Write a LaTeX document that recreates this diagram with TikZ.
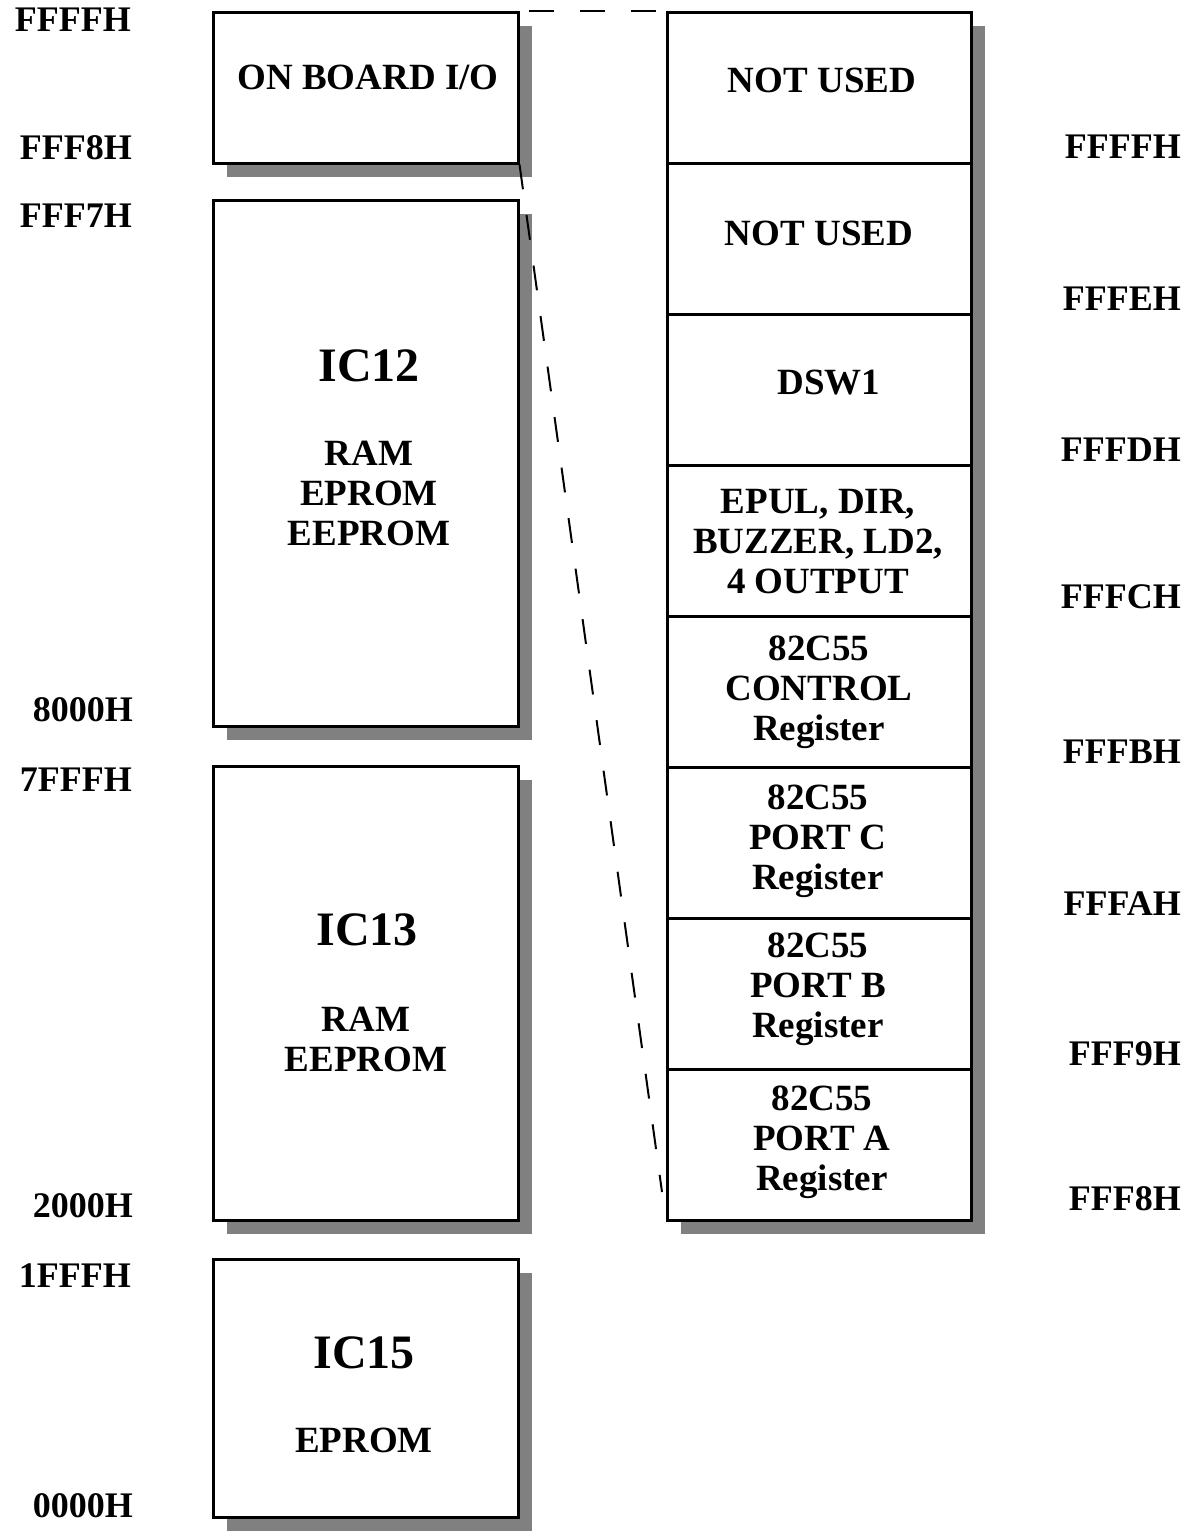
\documentclass[tikz,border=0pt]{standalone}
\usepackage{fontspec}
\setmainfont{Liberation Serif}
\usetikzlibrary{shadows,positioning,calc}

\tikzset{
  membox/.style={draw, line width=3pt, fill=white, minimum width=305pt, inner sep=0pt,
    drop shadow={shadow xshift=14pt, shadow yshift=-14pt, fill=black!50, opacity=1}},
  cell/.style={draw, line width=3pt, minimum width=304pt, minimum height=151pt, inner sep=0pt},
  addr/.style={font=\fontsize{36}{40}\selectfont\bfseries, anchor=east, inner sep=0pt},
  txt/.style={font=\fontsize{37}{40}\selectfont\bfseries, align=center, inner sep=0pt},
  chip/.style={font=\fontsize{48}{52}\selectfont\bfseries, inner sep=0pt},
  link/.style={line width=2pt, dash pattern=on 25pt off 26pt},
}

\begin{document}
\begin{tikzpicture}[x=1pt, y=-1pt]
  \useasboundingbox (0,0) rectangle (1194,1531);

  % memory blocks
  \node[membox, minimum height=151pt] (io) at (365.5,87.5) {};
  \node[membox, minimum height=526pt] (ic12) at (365.5,463) {};
  \node[membox, minimum height=454pt] (ic13) at (365.5,993) {};
  \node[membox, minimum height=258pt] (ic15) at (365.5,1388) {};

  \node[txt] (iotxt) at (368,77) {ON BOARD I/O};
  \node[chip] (ic12name) at (369,366) {IC12};
  \node[txt] (ic12txt) at (369,493) {RAM\\EPROM\\EEPROM};
  \node[chip] (ic13name) at (367,930) {IC13};
  \node[txt] (ic13txt) at (366,1039) {RAM\\EEPROM};
  \node[chip] (ic15name) at (364,1353) {IC15};
  \node[txt] (ic15txt) at (364,1440) {EPROM};

  % i/o map
  \node[membox, minimum width=304pt, minimum height=1208pt] (map) at (819,616) {};
  \foreach \i in {1,...,8}
    \node[cell] (row\i) at (819,{12+151*(\i-0.5)}) {};

  \node[txt] (r1txt) at (822,80) {NOT USED};
  \node[txt] (r2txt) at (819,233) {NOT USED};
  \node[txt] (r3txt) at (829,383) {DSW1};
  \node[txt] (r4txt) at (818,542) {EPUL, DIR,\\BUZZER, LD2,\\4 OUTPUT};
  \node[txt] (r5txt) at (819,692) {82C55\\CONTROL\\Register};
  \node[txt] (r6txt) at (818,841) {82C55\\PORT C\\Register};
  \node[txt] (r7txt) at (818,989) {82C55\\PORT B\\Register};
  \node[txt] (r8txt) at (822,1142) {82C55\\PORT A\\Register};

  % zoom lines
  \coordinate (linkend) at (662,1192);
  \draw[link, dash phase=42pt] (io.north east) -- (map.north west);
  \draw[link] (io.south east) -- (linkend);

  % addresses
  \node[addr] (a1) at (131,20) {FFFFH};
  \node[addr] (a2) at (132,148) {FFF8H};
  \node[addr] (a3) at (132,216) {FFF7H};
  \node[addr] (a4) at (133,710) {8000H};
  \node[addr] (a5) at (132,780) {7FFFH};
  \node[addr] (a6) at (133,1206) {2000H};
  \node[addr] (a7) at (131,1276) {1FFFH};
  \node[addr] (a8) at (133,1506) {0000H};

  \node[addr] (b1) at (1181,147) {FFFFH};
  \node[addr] (b2) at (1181,299) {FFFEH};
  \node[addr] (b3) at (1181,450) {FFFDH};
  \node[addr] (b4) at (1181,597) {FFFCH};
  \node[addr] (b5) at (1181,752) {FFFBH};
  \node[addr] (b6) at (1181,904) {FFFAH};
  \node[addr] (b7) at (1181,1054) {FFF9H};
  \node[addr] (b8) at (1181,1199) {FFF8H};
\end{tikzpicture}
\end{document}
